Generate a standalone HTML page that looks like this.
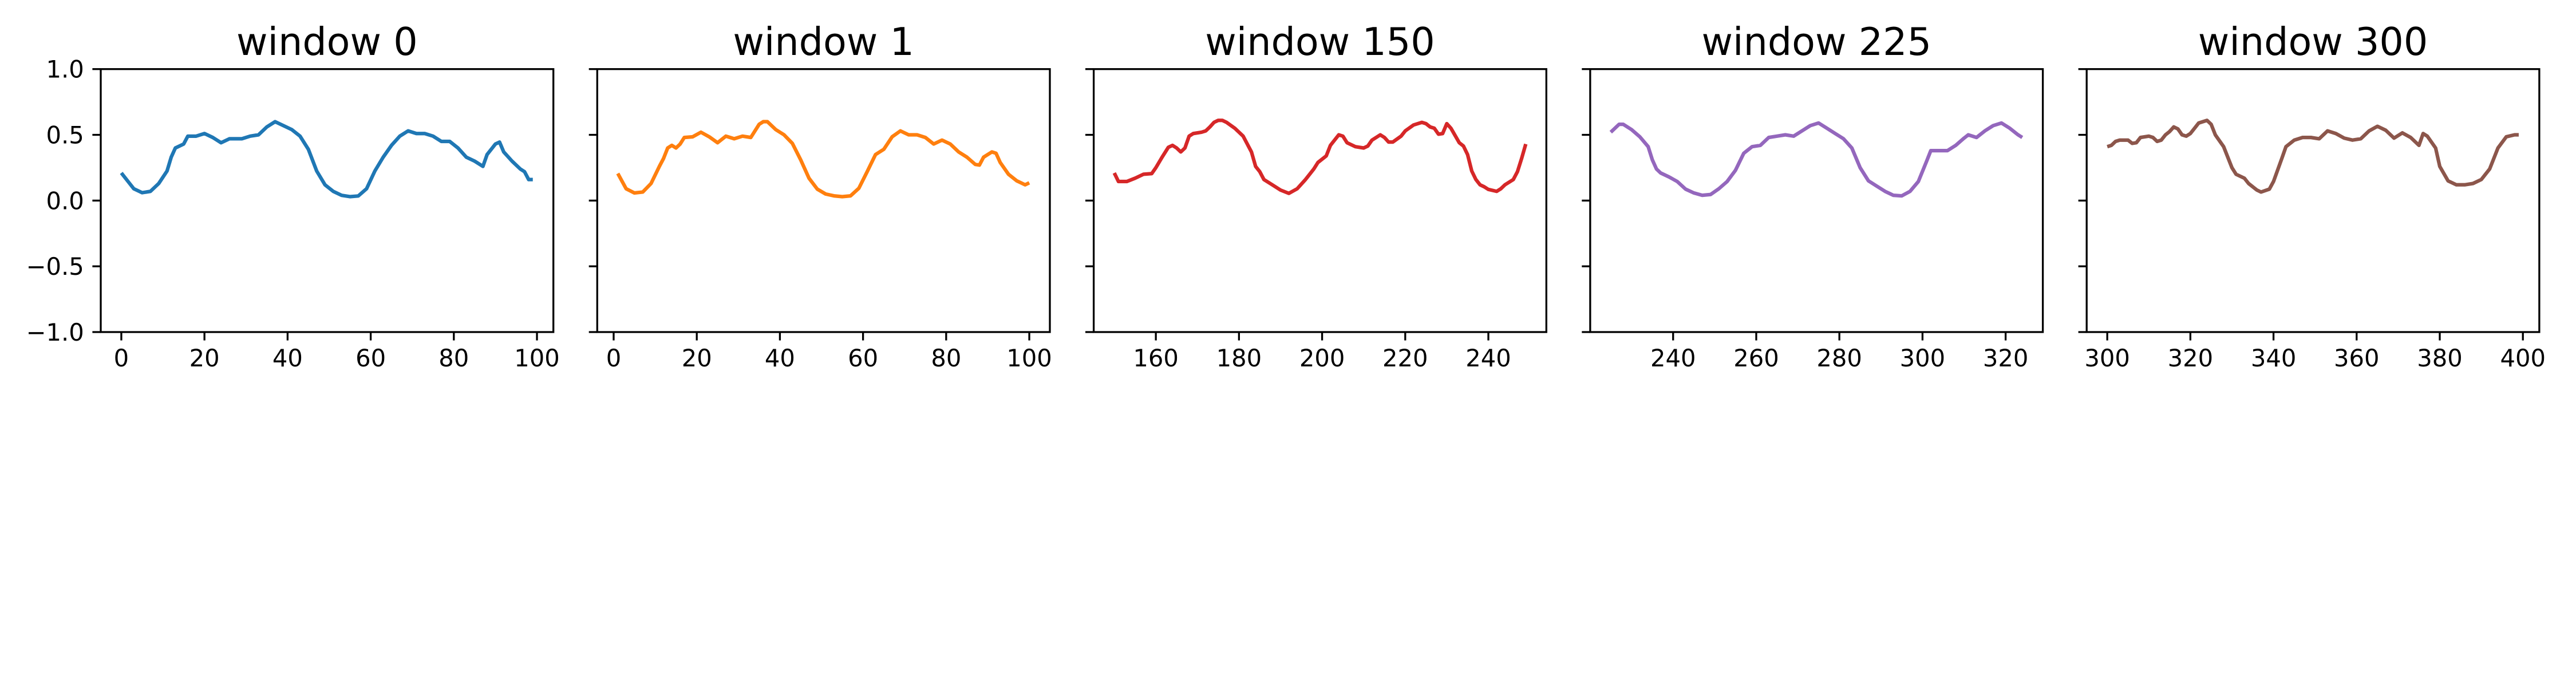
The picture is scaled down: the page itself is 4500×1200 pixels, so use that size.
<!DOCTYPE html>
<html><head><meta charset="utf-8"><style>
html,body{margin:0;padding:0;background:#fff;}
svg{display:block;font-family:"DejaVu Sans","Liberation Sans",sans-serif;}
</style></head><body>
<svg id="fig" width="4500" height="1200" viewBox="0 0 4500 1200" xmlns="http://www.w3.org/2000/svg">
<rect width="4500" height="1200" fill="#fff"/>
</svg>
<script>
const windowStarts = [0, 1, 150, 225, 300];
const windowTitles = ["window 0", "window 1", "window 150", "window 225", "window 300"];
const colors = ["#1f77b4", "#ff7f0e", "#d62728", "#9467bd", "#8c564b"];
const yTicks = [-1.0, -0.5, 0.0, 0.5, 1.0];
const yTickLabels = ["\u22121.0", "\u22120.5", "0.0", "0.5", "1.0"];
const xTicks0 = [0, 20, 40, 60, 80, 100];
const xTicks1 = [0, 20, 40, 60, 80, 100];
const xTicks150 = [160, 180, 200, 220, 240];
const xTicks225 = [240, 260, 280, 300, 320];
const xTicks300 = [300, 320, 340, 360, 380, 400];
const w0x = [0,2,3,5,7,9,11,12,13,15,16,18,20,22,24,26,29,31,33,35,37,39,41,43,45,47,49,51,53,55,57,59,61,63,65,67,69,71,73,75,77,79,81,83,85,87,88,90,91,92,94,96,97,98,99];
const w0y = [0.21,0.13,0.09,0.06,0.07,0.13,0.225,0.33,0.40,0.43,0.49,0.49,0.51,0.48,0.44,0.47,0.47,0.49,0.50,0.56,0.60,0.57,0.54,0.49,0.39,0.225,0.12,0.07,0.04,0.03,0.035,0.09,0.225,0.33,0.42,0.49,0.53,0.51,0.51,0.49,0.45,0.45,0.40,0.33,0.30,0.26,0.35,0.43,0.445,0.37,0.30,0.24,0.22,0.16,0.16];
const w1x = [1,3,5,7,9,11,12,13,14,15,16,17,19,21,23,25,27,29,31,33,35,36,37,39,41,43,45,47,49,51,53,55,57,59,61,63,65,67,69,71,73,75,77,79,81,83,85,87,88,89,91,92,93,95,97,99,100];
const w1y = [0.206,0.09,0.058,0.065,0.13,0.26,0.32,0.40,0.42,0.40,0.43,0.48,0.485,0.52,0.485,0.44,0.49,0.47,0.49,0.48,0.58,0.60,0.60,0.54,0.50,0.435,0.31,0.17,0.087,0.05,0.036,0.03,0.036,0.094,0.22,0.35,0.39,0.485,0.53,0.50,0.50,0.48,0.43,0.46,0.43,0.37,0.33,0.275,0.27,0.33,0.37,0.36,0.29,0.20,0.15,0.12,0.135];
const w150x = [150,151,153,155,157,159,160,161.5,163,164,165,166,167,168,169,171,172,173,174,175,176,177,179,181,183,184,185,186,188,190,192,194,196,198,199,201,202,204,205,206,208,210,211,212,214,215,216,217,219,220,222,224,225,226,227,228,229,230,231,233,234,235,236,237,238,239,240,242,243,244,246,247,248,249];
const w150y = [0.21,0.145,0.145,0.17,0.20,0.205,0.25,0.33,0.405,0.42,0.40,0.37,0.40,0.49,0.51,0.52,0.53,0.56,0.595,0.61,0.61,0.595,0.55,0.49,0.37,0.26,0.22,0.16,0.12,0.08,0.055,0.09,0.16,0.24,0.29,0.34,0.42,0.50,0.49,0.44,0.41,0.40,0.415,0.46,0.50,0.48,0.445,0.445,0.49,0.53,0.575,0.595,0.585,0.56,0.55,0.505,0.51,0.585,0.55,0.44,0.415,0.35,0.225,0.16,0.12,0.105,0.085,0.07,0.09,0.12,0.16,0.22,0.32,0.43];
const w225x = [225,227,228,230,232,234,235,236,237,239,241,243,245,247,249,251,253,255,257,259,261,263,265,267,269,271,273,275,277,279,281,283,285,287,289,291,293,295,297,299,301,302,304,306,308,310,311,313,315,317,319,321,323,324];
const w225y = [0.52,0.58,0.58,0.54,0.485,0.41,0.31,0.24,0.21,0.18,0.145,0.087,0.058,0.04,0.046,0.09,0.145,0.23,0.36,0.41,0.42,0.48,0.49,0.50,0.49,0.53,0.57,0.59,0.55,0.51,0.47,0.40,0.25,0.15,0.11,0.07,0.04,0.036,0.07,0.145,0.30,0.38,0.38,0.38,0.42,0.475,0.50,0.48,0.53,0.57,0.59,0.55,0.50,0.48];
const w300x = [300,301,302,303,305,306,307,308,310,311,312,313,314,315,316,317,318,319,320,321,322,324,325,326,328,330,331,333,334,336,337,339,340,342,343,345,347,349,351,352,353,355,357,359,361,363,365,367,369,371,373,375,376,377,379,380,382,384,386,388,390,392,394,396,398,399];
const w300y = [0.41,0.42,0.45,0.46,0.46,0.435,0.44,0.48,0.49,0.48,0.45,0.46,0.50,0.525,0.56,0.545,0.50,0.49,0.51,0.55,0.59,0.61,0.58,0.50,0.41,0.25,0.20,0.17,0.13,0.08,0.065,0.087,0.145,0.32,0.41,0.46,0.48,0.48,0.47,0.50,0.53,0.51,0.475,0.46,0.47,0.53,0.565,0.535,0.475,0.515,0.48,0.42,0.51,0.49,0.40,0.26,0.15,0.12,0.12,0.13,0.16,0.24,0.40,0.485,0.50,0.50];

const seriesX = [w0x, w1x, w150x, w225x, w300x];
const seriesY = [w0y, w1y, w150y, w225y, w300y];
const xTickSets = [xTicks0, xTicks1, xTicks150, xTicks225, xTicks300];

const NS = "http://www.w3.org/2000/svg";
const svg = document.getElementById('fig');
const AX_LEFT0 = 176, AX_STEP = 867.3, AX_W = 790.7, AX_TOP = 120.7, AX_BOT = 580;
const Y_MIN = -1, Y_MAX = 1;
const TICK = 14.6, LW = 3.3, FS = 41.67;

function mk(tag, attrs, parent) {
  const e = document.createElementNS(NS, tag);
  for (const k in attrs) e.setAttribute(k, attrs[k]);
  parent.appendChild(e);
  return e;
}
function yScale(v) { return AX_BOT - (v - Y_MIN) / (Y_MAX - Y_MIN) * (AX_BOT - AX_TOP); }

for (let p = 0; p < 5; p++) {
  const left = AX_LEFT0 + p * AX_STEP, right = left + AX_W;
  const xs = seriesX[p];
  const x0 = windowStarts[p], x1 = windowStarts[p] + 99;
  const pad = (x1 - x0) * 0.05;
  const xmin = x0 - pad, xmax = x1 + pad;
  const xScale = v => left + (v - xmin) / (xmax - xmin) * AX_W;

  const g = mk('g', {}, svg);
  
  

  const title = mk('text', {x: left + AX_W / 2, y: 96, 'text-anchor': 'middle', 'font-size': 66.7, fill: '#000'}, g);
  
  
  title.textContent = windowTitles[p];

  // line
  let d = '';
  for (let i = 0; i < xs.length; i++) {
    d += (i ? 'L' : 'M') + xScale(xs[i]).toFixed(2) + ' ' + yScale(seriesY[p][i]).toFixed(2);
  }
  const line = mk('path', {d: d, fill: 'none', stroke: colors[p], 'stroke-width': 6.25, 'stroke-linejoin': 'round', 'stroke-linecap': 'butt'}, g);
  
  

  // frame
  const frame = mk('rect', {x: left, y: AX_TOP, width: AX_W, height: AX_BOT - AX_TOP, fill: 'none', stroke: '#000', 'stroke-width': LW}, g);
  
  

  // y ticks
  for (let t = 0; t < yTicks.length; t++) {
    const yy = yScale(yTicks[t]);
    const tk = mk('line', {x1: left - TICK, x2: left, y1: yy, y2: yy, stroke: '#000', 'stroke-width': LW}, g);
    
    
    if (p === 0) {
      const lb = mk('text', {x: left - TICK - 14.6, y: yy + 15, 'text-anchor': 'end', 'font-size': FS, fill: '#000'}, g);
      
      
      lb.textContent = yTickLabels[t];
    }
  }
  // x ticks
  const xt = xTickSets[p];
  for (let t = 0; t < xt.length; t++) {
    const xx = xScale(xt[t]);
    const tk = mk('line', {x1: xx, x2: xx, y1: AX_BOT, y2: AX_BOT + TICK, stroke: '#000', 'stroke-width': LW}, g);
    
    
    const lb = mk('text', {x: xx, y: AX_BOT + TICK + 14.6 + 31, 'text-anchor': 'middle', 'font-size': FS, fill: '#000'}, g);
    
    
    lb.textContent = String(xt[t]);
  }
}
</script>
</body></html>
